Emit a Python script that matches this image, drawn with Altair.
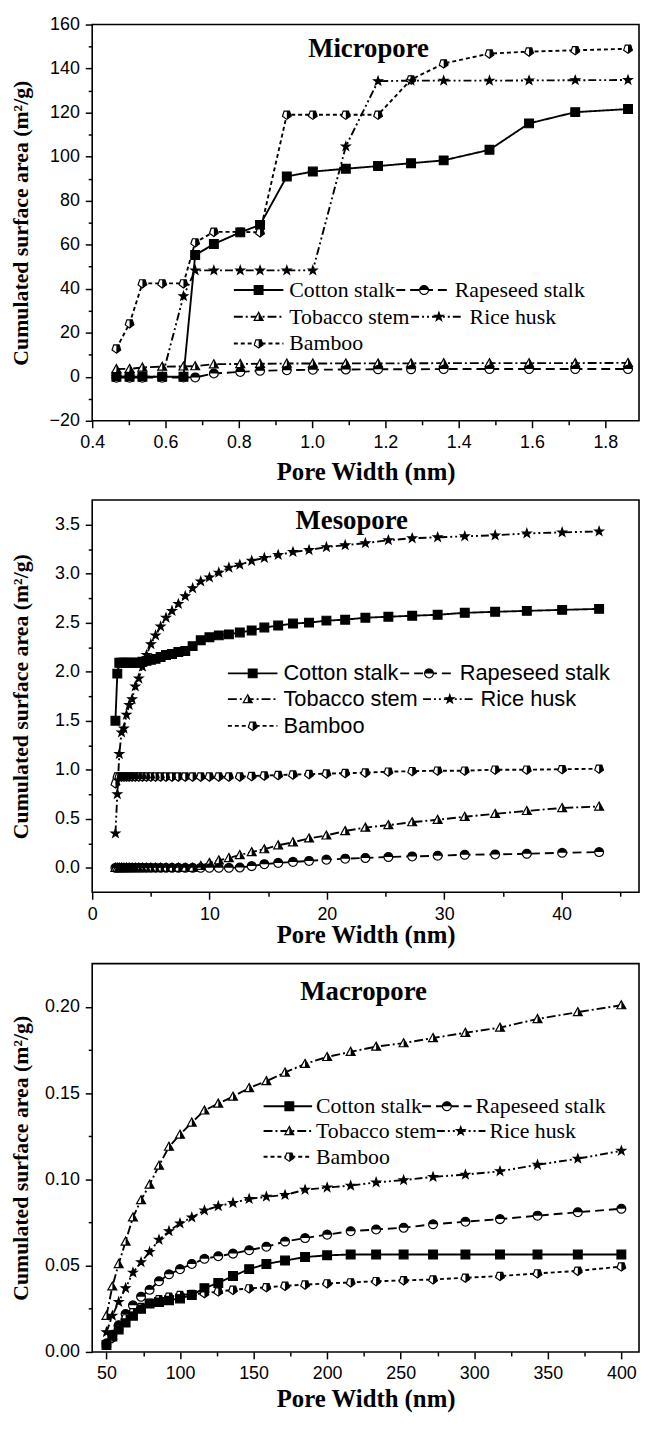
import altair as alt
import pandas as pd

SERIES = ["Cotton stalk", "Rapeseed stalk", "Tobacco stem", "Rice husk", "Bamboo"]

# ---------------- Micropore ----------------
micro_x = [0.466, 0.502, 0.537, 0.591, 0.649, 0.681, 0.732, 0.804, 0.858, 0.931,
           1.002, 1.092, 1.180, 1.270, 1.359, 1.484, 1.592, 1.718, 1.862]
micro_cotton = [0, 0, 0, 0, 0, 55.3, 60.3, 65.6, 69.0, 91.0,
                93.2, 94.5, 95.7, 97.0, 98.3, 103.1, 115.1, 120.2, 121.6]
micro_rapeseed = [-0.4, -0.4, -0.4, -0.4, -0.3, -0.3, 1.5, 2.2, 2.7, 3.0,
                  3.2, 3.3, 3.4, 3.4, 3.5, 3.5, 3.5, 3.5, 3.5]
micro_tobacco = [3.5, 3.6, 4.2, 4.6, 4.7, 4.8, 5.7, 5.8, 5.9, 6.0,
                 6.0, 6.1, 6.1, 6.1, 6.2, 6.2, 6.2, 6.2, 6.3]
micro_rice = [0, 0, 0, 0, 36.6, 48.3, 48.3, 48.3, 48.3, 48.3,
              48.3, 104.6, 134.3, 134.5, 134.5, 134.5, 134.6, 134.7, 134.8]
micro_bamboo = [12.8, 24.2, 42.4, 42.4, 42.4, 61.0, 65.8, 65.8, 65.6, 119.0,
                119.0, 119.0, 119.0, 135.0, 142.3, 146.8, 147.7, 148.3, 149.0]

# ---------------- Mesopore ----------------
meso_x = [1.98, 2.14, 2.31, 2.50, 2.70, 2.92, 3.15, 3.40, 3.67, 3.97,
          4.28, 4.63, 5.00, 5.40, 5.83, 6.29, 6.80, 7.34, 7.93, 8.56,
          9.25, 9.99, 10.79, 11.65, 12.58, 13.59, 14.67, 15.85, 17.11, 18.48,
          19.96, 21.56, 23.28, 25.24, 27.27, 29.44, 31.75, 34.34, 37.04, 40.05,
          43.20]
meso_cotton = [1.50, 1.98, 2.09, 2.09, 2.09, 2.09, 2.09, 2.09, 2.09, 2.09,
               2.10, 2.11, 2.12, 2.13, 2.15, 2.17, 2.18, 2.20, 2.21, 2.26,
               2.32, 2.35, 2.37, 2.38, 2.40, 2.42, 2.45, 2.47, 2.49, 2.50,
               2.52, 2.53, 2.55, 2.56, 2.57, 2.58, 2.60, 2.61, 2.62, 2.63,
               2.64]
meso_rapeseed = [0, 0, 0, 0, 0, 0, 0, 0, 0, 0,
                 0, 0, 0, 0, 0, 0, 0, 0, 0, 0,
                 0, 0, 0, 0, 0.003, 0.017, 0.037, 0.05, 0.06, 0.07,
                 0.083, 0.093, 0.10, 0.11, 0.116, 0.123, 0.133, 0.136, 0.143, 0.153,
                 0.16]
meso_tobacco = [0, 0, 0, 0, 0, 0, 0, 0, 0, 0,
                0, 0, 0, 0, 0, 0, 0, 0, 0, 0,
                0.02, 0.05, 0.076, 0.10, 0.13, 0.16, 0.19, 0.23, 0.26, 0.30,
                0.33, 0.375, 0.41, 0.435, 0.465, 0.49, 0.52, 0.55, 0.58, 0.61,
                0.625]
meso_rice = [0.35, 0.75, 1.16, 1.38, 1.42, 1.56, 1.66, 1.72, 1.85, 1.93,
             2.05, 2.17, 2.28, 2.37, 2.46, 2.55, 2.62, 2.69, 2.77, 2.85,
             2.92, 2.96, 3.01, 3.06, 3.09, 3.13, 3.16, 3.19, 3.22, 3.24,
             3.27, 3.29, 3.31, 3.34, 3.36, 3.37, 3.38, 3.39, 3.41, 3.42,
             3.43]
meso_bamboo = [0.86, 0.93, 0.93, 0.93, 0.93, 0.93, 0.93, 0.93, 0.93, 0.93,
               0.93, 0.93, 0.93, 0.93, 0.93, 0.93, 0.93, 0.93, 0.93, 0.93,
               0.93, 0.93, 0.93, 0.93, 0.93, 0.935, 0.94, 0.945, 0.95, 0.955,
               0.96, 0.965, 0.97, 0.98, 0.985, 0.99, 0.99, 1.0, 1.0, 1.005,
               1.01]

# ---------------- Macropore ----------------
macro_x = [50, 54, 58.3, 63, 68, 73.5, 79.3, 85.7, 92.5, 100,
           108, 116.6, 126, 136, 147, 158.7, 171.4, 185, 200, 216,
           233.3, 252, 272, 294, 317.5, 343, 370.4, 400]
macro_cotton = [0.004, 0.009, 0.013, 0.017, 0.021, 0.025, 0.028, 0.029, 0.030, 0.031,
                0.033, 0.037, 0.040, 0.044, 0.048, 0.051, 0.053, 0.055, 0.056, 0.0565,
                0.0565, 0.0565, 0.0565, 0.0565, 0.0565, 0.0565, 0.0565, 0.0565]
macro_rapeseed = [0.005, 0.010, 0.0155, 0.022, 0.027, 0.032, 0.036, 0.041, 0.045, 0.048,
                  0.051, 0.054, 0.0555, 0.057, 0.059, 0.061, 0.064, 0.066, 0.068, 0.070,
                  0.071, 0.072, 0.074, 0.0755, 0.077, 0.079, 0.081, 0.083]
macro_tobacco = [0.021, 0.038, 0.051, 0.064, 0.078, 0.088, 0.097, 0.108, 0.119, 0.126,
                 0.133, 0.140, 0.144, 0.148, 0.153, 0.157, 0.162, 0.167, 0.171, 0.174,
                 0.177, 0.179, 0.182, 0.185, 0.188, 0.193, 0.197, 0.201]
macro_rice = [0.0115, 0.021, 0.029, 0.037, 0.046, 0.052, 0.058, 0.065, 0.070, 0.0745,
              0.078, 0.082, 0.0845, 0.0864, 0.0887, 0.090, 0.091, 0.094, 0.0953, 0.0964,
              0.0983, 0.0996, 0.1015, 0.1028, 0.1047, 0.1085, 0.112, 0.1166]
macro_bamboo = [0.004, 0.008, 0.0138, 0.0194, 0.023, 0.026, 0.0285, 0.0305, 0.032, 0.033,
                0.0335, 0.034, 0.035, 0.036, 0.0368, 0.0375, 0.0383, 0.039, 0.0397, 0.0403,
                0.041, 0.0415, 0.042, 0.043, 0.044, 0.0455, 0.047, 0.0495]

# ---------------- styles ----------------
DASHES = [[1, 0], [9, 5], [9, 3, 2, 3], [8, 3, 2, 3, 2, 3], [4, 3]]
SQUARE = "M-1,-1L1,-1L1,1L-1,1Z"
CIRCLE = ("M1,0L0.924,0.383L0.707,0.707L0.383,0.924L0,1L-0.383,0.924L-0.707,0.707"
          "L-0.924,0.383L-1,0L-0.924,-0.383L-0.707,-0.707L-0.383,-0.924L0,-1"
          "L0.383,-0.924L0.707,-0.707L0.924,-0.383Z")
HALF_CIRCLE = ("M-1,0L-0.924,-0.383L-0.707,-0.707L-0.383,-0.924L0,-1"
               "L0.383,-0.924L0.707,-0.707L0.924,-0.383L1,0Z")
TRI = "M0,-1L1,0.8L-1,0.8Z"
STAR = ("M0,-1L0.235,-0.324L0.951,-0.309L0.38,0.124L0.588,0.809L0,0.4"
        "L-0.588,0.809L-0.38,0.124L-0.951,-0.309L-0.235,-0.324Z")
PENT = "M0,1L-0.951,0.309L-0.588,-0.809L0.588,-0.809L0.951,0.309Z"
FULL_SHAPES = [SQUARE, CIRCLE, TRI, STAR, PENT]
HALF_SHAPES = [SQUARE, HALF_CIRCLE, "M0,-1L1,0.8L0,0.8Z", STAR,
               "M0,1L0,-0.809L0.588,-0.809L0.951,0.309Z"]
SIZES = [78, 85, 115, 130, 105]


def long_df(x, cols):
    rows = []
    for s, vals in zip(SERIES, cols):
        for xi, yi in zip(x, vals):
            rows.append({"x": xi, "y": yi, "series": s})
    return pd.DataFrame(rows)


def legend_df(rows):
    # rows: (series, ly, lx1, lx2, mx, tx)  -- pixel offsets inside the plot
    return pd.DataFrame([
        {"series": s, "label": s, "ly": ly, "lx1": a, "lx2": b, "mx": m, "tx": t}
        for s, ly, a, b, m, t in rows
    ])


def major_test(step):
    return f"abs(datum.value/{step} - round(datum.value/{step})) < 0.001"


def panel(df, leg, xdom, ydom, xvals, yvals, xstep, ystep, xfmt, yfmt,
          w, h, title, tpos, legfont, ytitlepad, xtitlepad):
    dash = alt.StrokeDash("series:N", scale=alt.Scale(domain=SERIES, range=DASHES), legend=None)
    shape_full = alt.Shape("series:N", scale=alt.Scale(domain=SERIES, range=FULL_SHAPES), legend=None)
    shape_half = alt.Shape("series:N", scale=alt.Scale(domain=SERIES, range=HALF_SHAPES), legend=None)
    size = alt.Size("series:N", scale=alt.Scale(domain=SERIES, range=SIZES), legend=None)

    xaxis = alt.Axis(values=xvals, format=xfmt, title="Pore Width (nm)",
                     labelExpr=f"{major_test(xstep)} ? datum.label : ''",
                     tickSize={"condition": {"test": major_test(xstep), "value": 7}, "value": 4},
                     labelOverlap=False, labelFlush=False, grid=False, domain=False,
                     labelPadding=6, titlePadding=xtitlepad, titleFontSize=25)
    yaxis = alt.Axis(values=yvals, format=yfmt, title="Cumulated surface area (m²/g)",
                     labelExpr=f"{major_test(ystep)} ? datum.label : ''",
                     tickSize={"condition": {"test": major_test(ystep), "value": 7}, "value": 4},
                     labelOverlap=False, labelFlush=False, grid=False, domain=False,
                     labelPadding=6, titlePadding=ytitlepad, titleFontSize=22)
    X = alt.X("x:Q", scale=alt.Scale(domain=xdom, nice=False, zero=False), axis=xaxis)
    Y = alt.Y("y:Q", scale=alt.Scale(domain=ydom, nice=False, zero=False), axis=yaxis)

    base = alt.Chart(df)
    lines = base.mark_line(color="black", strokeWidth=1.9).encode(
        x=X, y=Y, detail="series:N", strokeDash=dash, order="x:Q")
    pts = base.mark_point(filled=True, fill="white", stroke="black", strokeWidth=1.2,
                          opacity=1).encode(x=X, y=Y, shape=shape_full, size=size)
    half = base.mark_point(filled=True, fill="black", strokeWidth=0, opacity=1).encode(
        x=X, y=Y, shape=shape_half, size=size)

    lb = alt.Chart(leg)
    LX = lambda f: alt.X(f"{f}:Q", scale=None, axis=None)
    LY = alt.Y("ly:Q", scale=None, axis=None)
    lrule = lb.mark_rule(color="black", strokeWidth=1.9).encode(
        x=LX("lx1"), x2="lx2:Q", y=LY, strokeDash=dash)
    lpts = lb.mark_point(filled=True, fill="white", stroke="black", strokeWidth=1.2,
                         opacity=1).encode(x=LX("mx"), y=LY, shape=shape_full, size=size)
    lhalf = lb.mark_point(filled=True, fill="black", strokeWidth=0, opacity=1).encode(
        x=LX("mx"), y=LY, shape=shape_half, size=size)
    ltext = lb.mark_text(align="left", baseline="middle", font=legfont, fontSize=22,
                         color="black").encode(x=LX("tx"), y=LY, text="label:N")

    ttl = alt.Chart(pd.DataFrame({"t": [title]})).mark_text(
        font="Liberation Serif", fontWeight="bold", fontSize=27, color="black",
        align="center", baseline="middle").encode(
        x=alt.value(tpos[0]), y=alt.value(tpos[1]), text="t:N")

    return alt.layer(lines, pts, half, lrule, lpts, lhalf, ltext, ttl).resolve_scale(
        shape="independent").properties(width=w, height=h)


df1 = long_df(micro_x, [micro_cotton, micro_rapeseed, micro_tobacco, micro_rice, micro_bamboo])
df2 = long_df(meso_x, [meso_cotton, meso_rapeseed, meso_tobacco, meso_rice, meso_bamboo])
df3 = long_df(macro_x, [macro_cotton, macro_rapeseed, macro_tobacco, macro_rice, macro_bamboo])

leg1 = legend_df([
    ("Cotton stalk", 268, 143, 193, 168, 199),
    ("Rapeseed stalk", 268, 307, 362, 335, 366),
    ("Tobacco stem", 295, 143, 193, 168, 199),
    ("Rice husk", 295, 322, 375, 350, 381),
    ("Bamboo", 322, 143, 193, 168, 199),
])
leg2 = legend_df([
    ("Cotton stalk", 175, 137, 187, 162, 193),
    ("Rapeseed stalk", 175, 311, 365, 340, 371),
    ("Tobacco stem", 201, 137, 187, 157, 193),
    ("Rice husk", 201, 334, 385, 361, 392),
    ("Bamboo", 228, 137, 187, 162, 193),
])
leg3 = legend_df([
    ("Cotton stalk", 144, 173, 222, 199, 226),
    ("Rapeseed stalk", 144, 333, 383, 358, 387),
    ("Tobacco stem", 169, 173, 222, 199, 226),
    ("Rice husk", 169, 348, 397, 372, 401),
    ("Bamboo", 195, 173, 222, 199, 226),
])

p1 = panel(df1, leg1, [0.4, 1.892], [-20, 160],
           [0.4, 0.5, 0.6, 0.7, 0.8, 0.9, 1.0, 1.1, 1.2, 1.3, 1.4, 1.5, 1.6, 1.7, 1.8],
           [-20, -10, 0, 10, 20, 30, 40, 50, 60, 70, 80, 90, 100, 110, 120, 130, 140, 150, 160],
           0.2, 20, ".1f", "d", 552, 400, "Micropore", (279, 25), "Liberation Serif", 17, 8)
p2 = panel(df2, leg2, [0, 46.6], [-0.25, 3.75],
           [0, 5, 10, 15, 20, 25, 30, 35, 40, 45],
           [0, 0.25, 0.5, 0.75, 1.0, 1.25, 1.5, 1.75, 2.0, 2.25, 2.5, 2.75, 3.0, 3.25, 3.5],
           10, 0.5, "d", ".1f", 552, 396, "Mesopore", (262, 21), "Liberation Sans", 22, 0)
p3 = panel(df3, leg3, [40.3, 412], [0, 0.2251],
           [50, 75, 100, 125, 150, 175, 200, 225, 250, 275, 300, 325, 350, 375, 400],
           [0, 0.025, 0.05, 0.075, 0.1, 0.125, 0.15, 0.175, 0.2],
           50, 0.05, "d", ".2f", 552, 392, "Macropore", (274, 29), "Liberation Serif", 12, 4)

chart = alt.vconcat(p1, p2, p3, spacing=14).properties(
    padding=0
).configure_view(stroke="black", strokeWidth=1.6, fill="white").configure_axis(
    labelFont="Liberation Sans", labelFontSize=18, labelColor="black",
    titleFont="Liberation Serif", titleFontWeight="bold",
    titleColor="black", tickColor="black", tickWidth=1.5
)

chart.save("out.html", embed_options={"renderer": "svg", "actions": False})
